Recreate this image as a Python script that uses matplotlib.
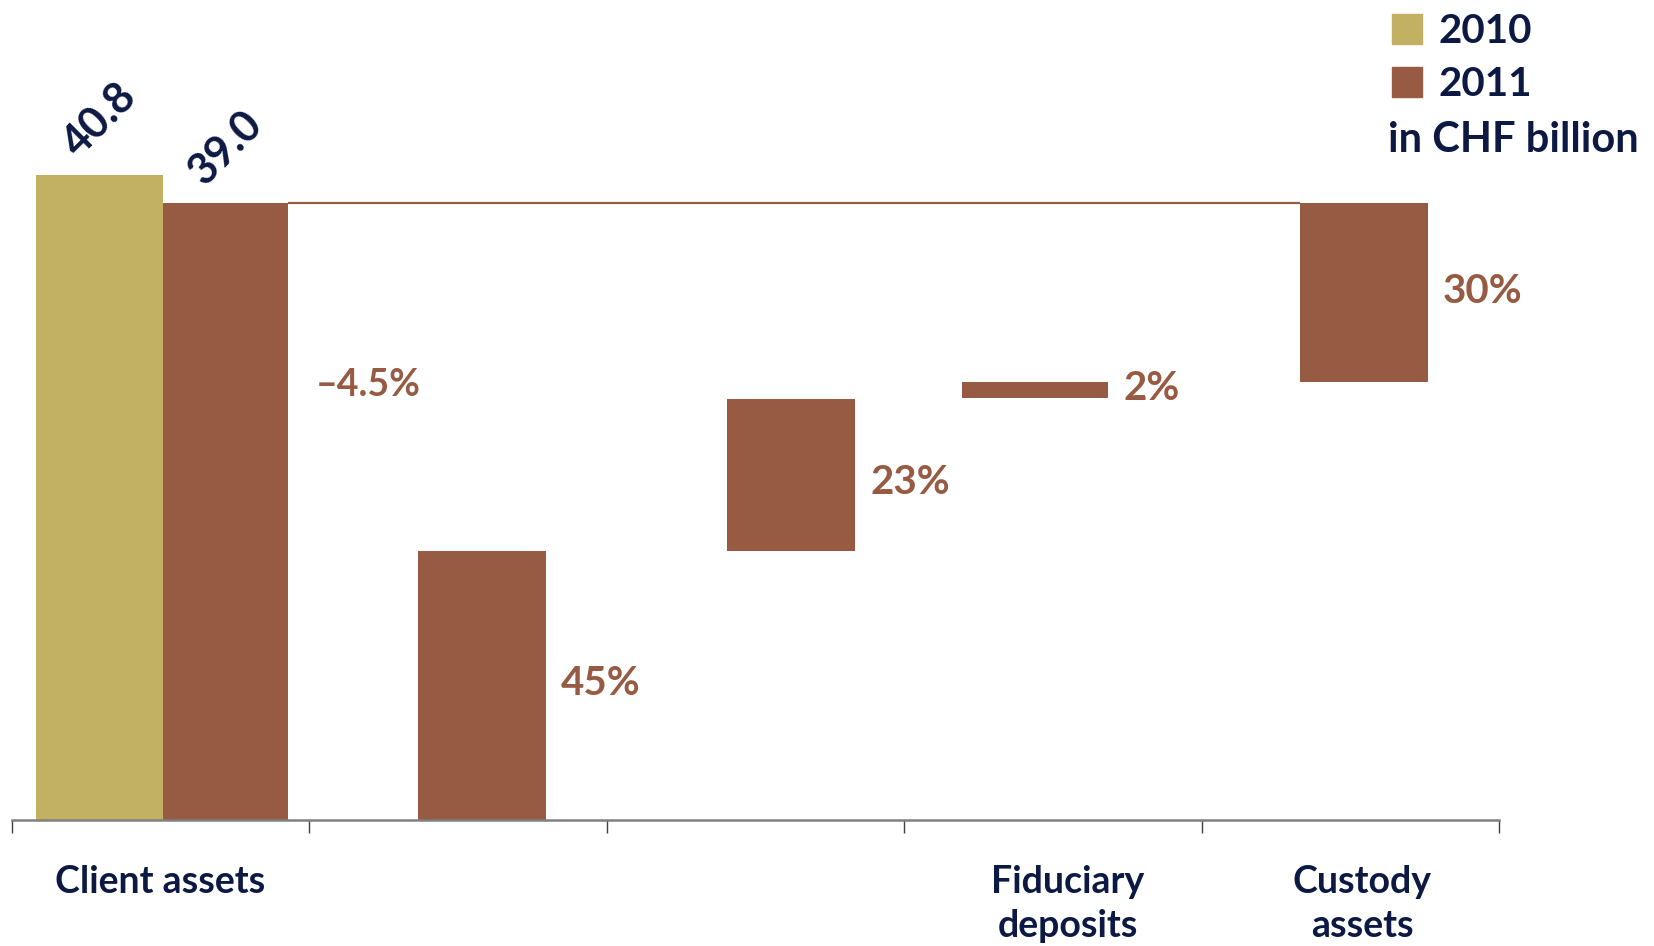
import matplotlib
matplotlib.use("Agg")
import matplotlib.pyplot as plt
from matplotlib.patches import Patch

# values in CHF billion
years = ["2010", "2011"]
client_assets = [40.8, 39.0]
change_label = "\u20134.5%"

# breakdown of 2011 client assets (bottom, top of each floating bar)
part_labels = ["45%", "23%", "2%", "30%"]
part_bottoms = [0.0, 17.0, 26.7, 27.7]
part_tops = [17.0, 26.6, 27.7, 39.0]

categories = ["Client assets", "", "", "Fiduciary\ndeposits", "Custody\nassets"]

# layout (category units / data height of labels)
year_x = [-0.205, 0.22]
year_w = [0.425, 0.42]
part_x = [1.08, 2.12, 2.94, 4.046]
part_w = [0.43, 0.43, 0.49, 0.43]
part_label_y = [8.6, 21.3, 27.3, 33.4]
cat_label_x = [0.0, 1.0, 2.0, 3.05, 4.04]

GOLD = "#c3b163"
BROWN = "#975a42"
NAVY = "#0c1943"
plt.rcParams["font.family"] = ["Lato", "DejaVu Sans"]

fig = plt.figure(figsize=(16.54, 9.46), dpi=100)
ax = fig.add_axes([11.6 / 1654, 126.5 / 946, (1499 - 11.6) / 1654, 790 / 946])
ax.set_xlim(-0.5, 4.5)
ax.set_ylim(0, 50)

# client assets 2010 / 2011
for xc, w, v, c, y in zip(year_x, year_w, client_assets, [GOLD, BROWN], years):
    ax.bar(xc, v, width=w, color=c, label=y)
    ax.annotate(f"{v:.1f}", (xc, v), xytext=(0, 40), textcoords="offset points",
                rotation=45, ha="center", va="center", fontsize=31,
                fontweight="bold", color=NAVY)
ax.text(0.523, 27.5, change_label, fontsize=27, color=BROWN,
        fontweight="bold", va="center", ha="left")

# reference line at 2011 level
ax.plot([year_x[1] + year_w[1] / 2, part_x[3] - part_w[3] / 2], [client_assets[1]] * 2,
        color=BROWN, lw=1.6, solid_capstyle="butt")

# floating parts
for x, w, b, t, lab, ly in zip(part_x, part_w, part_bottoms, part_tops,
                               part_labels, part_label_y):
    ax.bar(x, t - b, bottom=b, width=w, color=BROWN)
    ax.annotate(lab, (x + w / 2, ly), xytext=(11, 0),
                textcoords="offset points", fontsize=29, fontweight="bold",
                color=BROWN, va="center", ha="left")

# axis
for s in ["top", "right", "left"]:
    ax.spines[s].set_visible(False)
ax.spines["bottom"].set_color("#808080")
ax.spines["bottom"].set_linewidth(1.8)
ax.set_yticks([])
ax.set_xticks([-0.5, 0.5, 1.5, 2.5, 3.5, 4.5])
ax.set_xticklabels([])
ax.tick_params(axis="x", direction="out", length=9, width=1.0, colors="#404040")

for x, lab in zip(cat_label_x, categories):
    ax.text(x, -2.9, lab, ha="center", va="top", fontsize=27, fontweight="bold",
            color=NAVY, linespacing=1.35, clip_on=False)

# legend
handles = [Patch(color=GOLD, label=years[0]), Patch(color=BROWN, label=years[1])]
leg = fig.legend(handles=handles, loc="upper left", bbox_to_anchor=(1368 / 1654, 1.012),
                 frameon=False, fontsize=29, handlelength=0.75, handleheight=0.75,
                 handletextpad=0.4, labelspacing=0.4, borderaxespad=0.2)
for t in leg.get_texts():
    t.set_color(NAVY)
    t.set_fontweight("bold")
fig.text(1388 / 1654, 1 - 140 / 946, "in CHF billion", fontsize=30, fontweight="bold",
         color=NAVY, ha="left", va="center")

fig.savefig("out.png", dpi=100, facecolor="white")
